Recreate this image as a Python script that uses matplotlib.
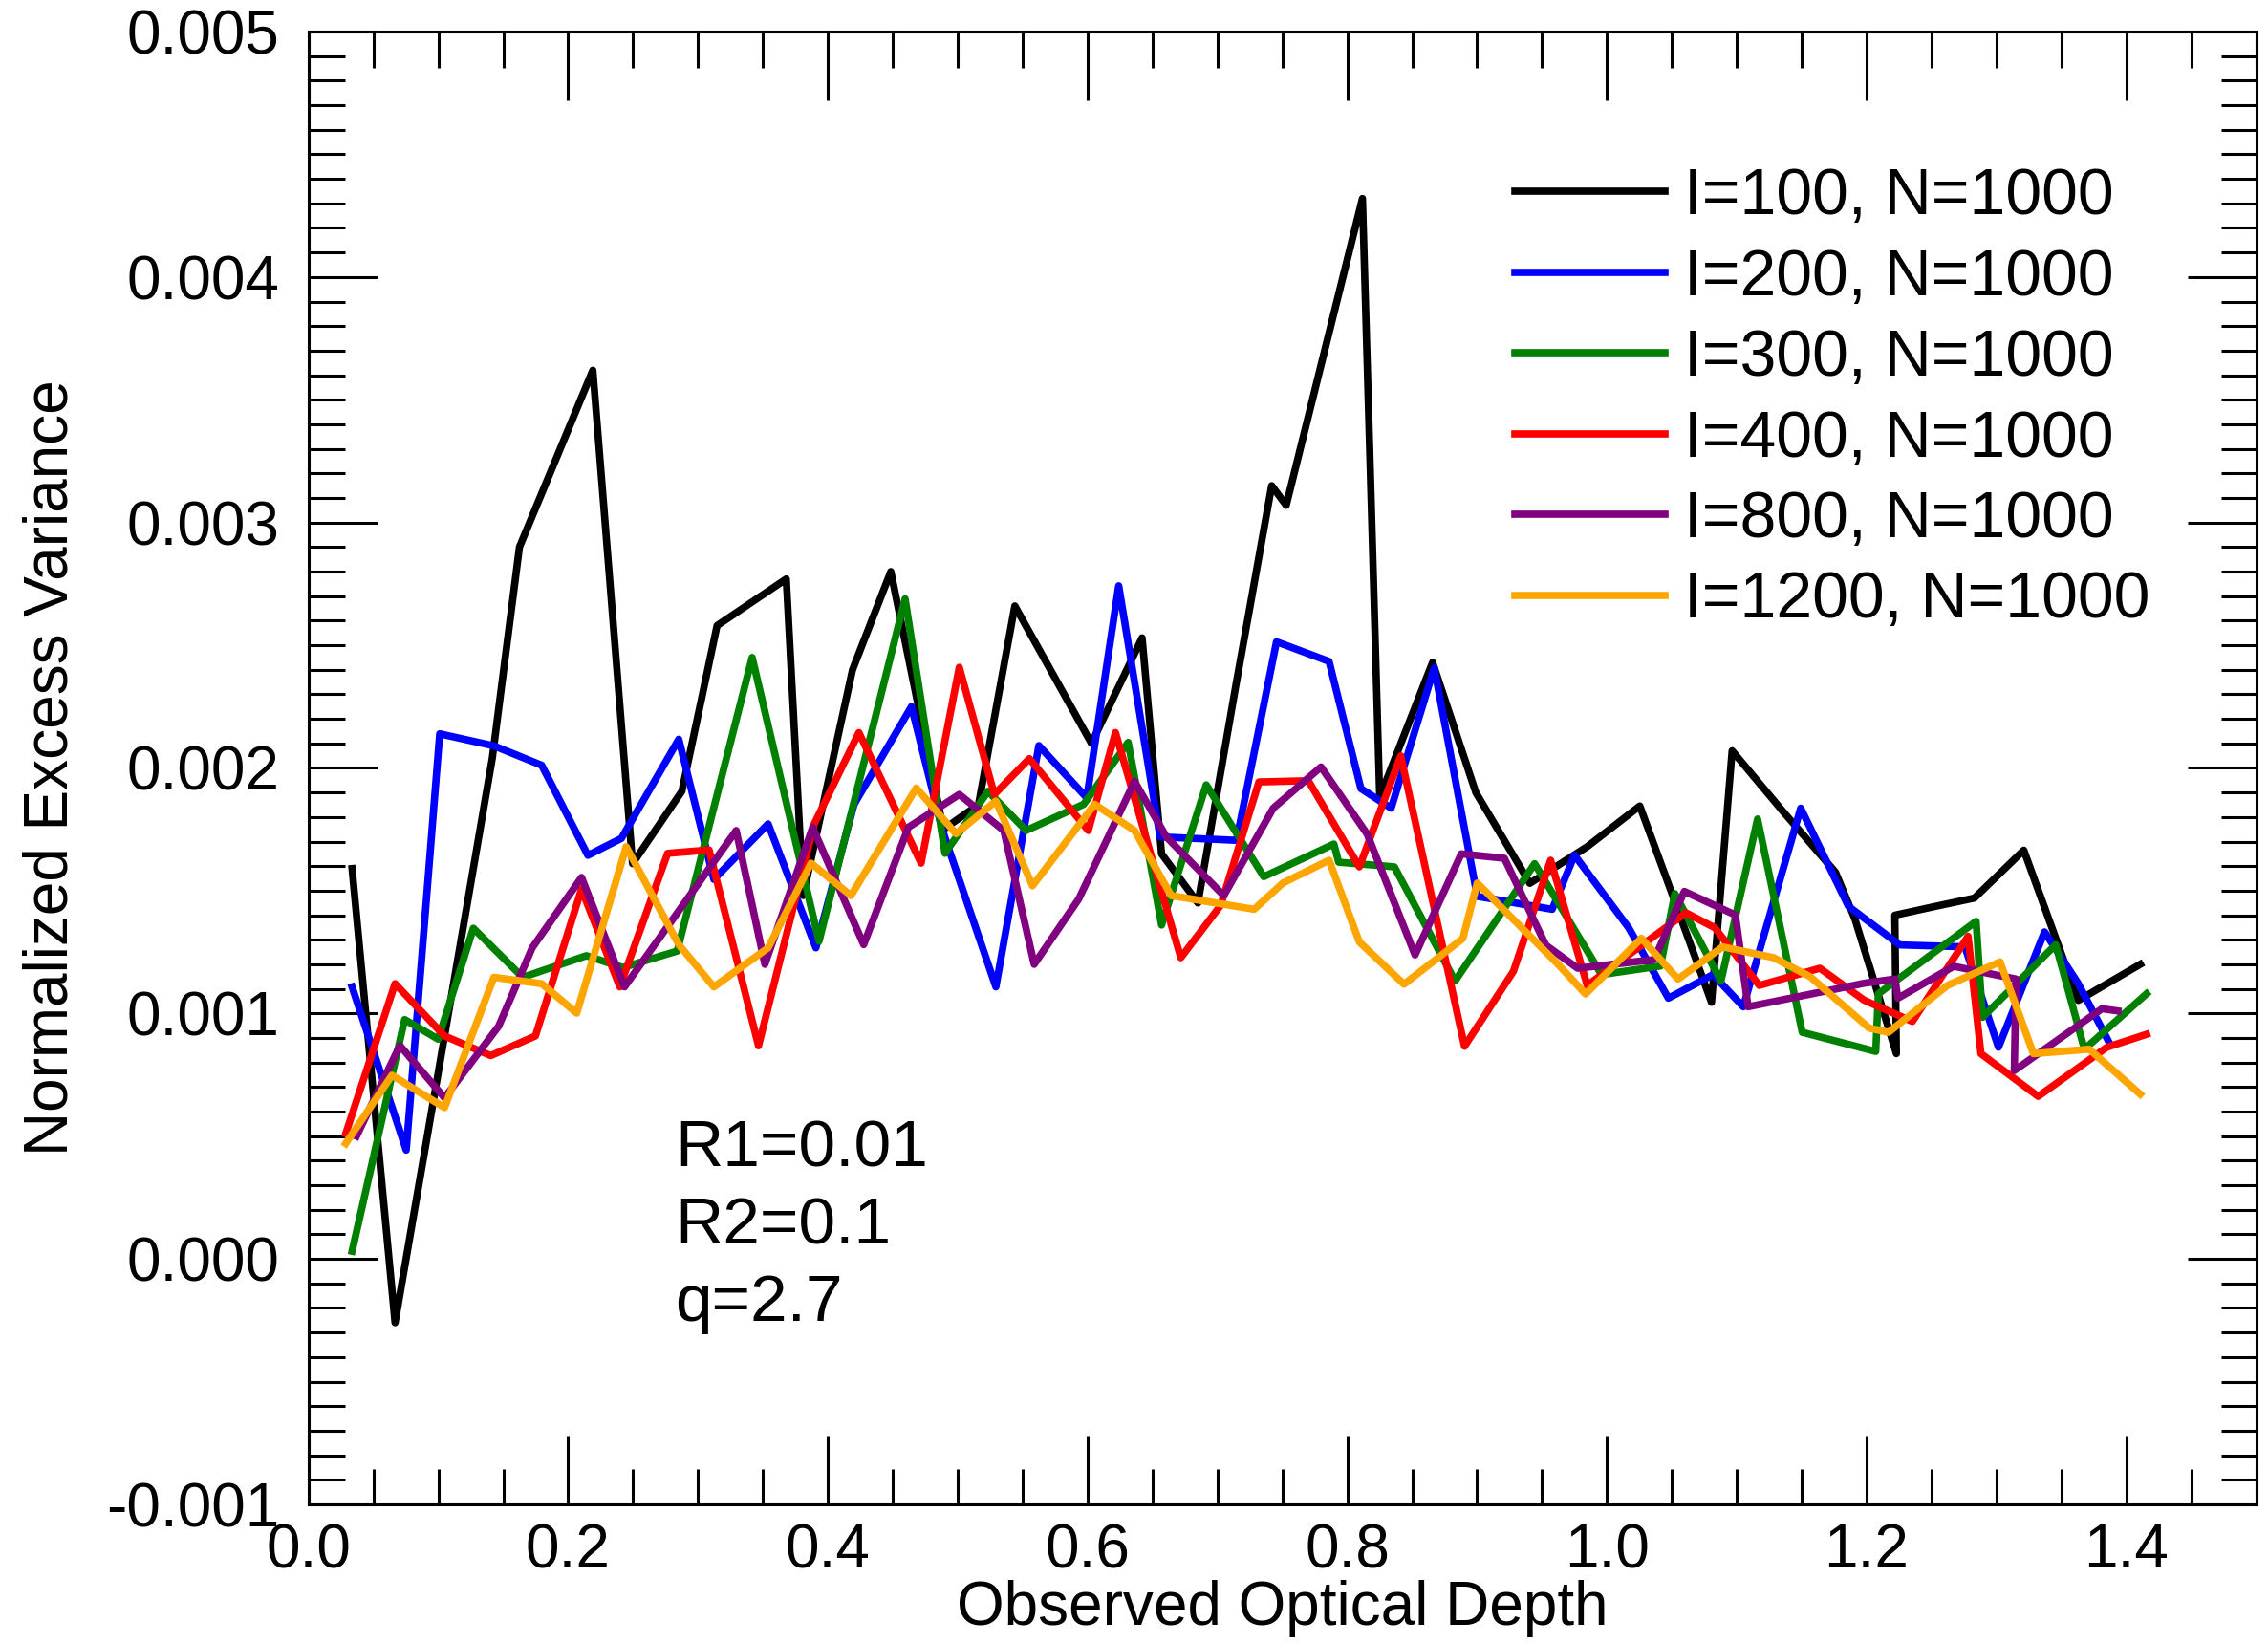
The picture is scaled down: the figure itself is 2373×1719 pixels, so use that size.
import matplotlib
matplotlib.use('Agg')
import matplotlib.pyplot as plt
from matplotlib.ticker import MultipleLocator, FormatStrFormatter

plt.rcParams['font.family'] = ['Liberation Sans', 'DejaVu Sans']

# optical depth / excess variance (units of 1e-3) for each l
x_100 = [0.0336, 0.0667, 0.100, 0.1416, 0.1625, 0.219, 0.2496, 0.2876, 0.3147, 0.368,
         0.381, 0.419, 0.4485, 0.489, 0.516, 0.544, 0.603, 0.642, 0.657, 0.685,
         0.714, 0.7418, 0.753, 0.8117, 0.825, 0.8657, 0.899, 0.9406, 0.985, 1.0253,
         1.052, 1.0805, 1.0964, 1.136, 1.176, 1.191, 1.2229, 1.2217, 1.252, 1.283,
         1.321, 1.363, 1.4107]
y_100 = [1.59, -0.26, 0.76, 2.04, 2.90, 3.62, 1.61, 1.905, 2.58, 2.77,
         1.48, 2.40, 2.80, 1.75, 1.85, 2.66, 2.10, 2.53, 1.65, 1.45,
         2.33, 3.15, 3.07, 4.32, 1.88, 2.43, 1.90, 1.53, 1.68, 1.845,
         1.46, 1.045, 2.07, 1.82, 1.575, 1.384, 0.836, 1.40, 1.435, 1.47,
         1.665, 1.053, 1.20]

x_200 = [0.0336, 0.0753, 0.1011, 0.1428, 0.1796, 0.2152, 0.241, 0.2852, 0.3122, 0.354,
         0.3908, 0.4202, 0.4644, 0.488, 0.5294, 0.5625, 0.5994, 0.624, 0.6558, 0.7147,
         0.7455, 0.786, 0.8105, 0.8338, 0.867, 0.9001, 0.9578, 0.975, 1.0167, 1.0473,
         1.0817, 1.105, 1.1492, 1.186, 1.2254, 1.2757, 1.3015, 1.337, 1.3628, 1.3861]
y_200 = [1.108, 0.443, 2.139, 2.09, 2.011, 1.644, 1.713, 2.117, 1.546, 1.772,
         1.267, 1.852, 2.25, 1.75, 1.108, 2.091, 1.878, 2.742, 1.719, 1.705,
         2.514, 2.434, 1.916, 1.836, 2.408, 1.477, 1.424, 1.645, 1.349, 1.062,
         1.158, 1.027, 1.836, 1.436, 1.279, 1.271, 0.862, 1.332, 1.123, 0.888]

x_300 = [0.0336, 0.0741, 0.0999, 0.127, 0.165, 0.214, 0.2422, 0.284, 0.3417, 0.3932,
         0.4595, 0.4902, 0.5233, 0.5527, 0.597, 0.6313, 0.657, 0.6914, 0.7357, 0.7897,
         0.7934, 0.8363, 0.883, 0.9443, 0.9958, 1.0412, 1.0523, 1.0878, 1.116, 1.1504,
         1.207, 1.209, 1.2843, 1.2892, 1.3456, 1.3677, 1.4156]
y_300 = [0.031, 0.975, 0.895, 1.347, 1.147, 1.235, 1.187, 1.254, 2.45, 1.294,
         2.689, 1.652, 1.905, 1.745, 1.852, 2.104, 1.36, 1.931, 1.557, 1.69,
         1.616, 1.597, 1.132, 1.61, 1.158, 1.193, 1.488, 1.132, 1.792, 0.923,
         0.845, 1.08, 1.375, 0.984, 1.28, 0.854, 1.08]

x_400 = [0.0287, 0.0667, 0.1048, 0.1404, 0.1748, 0.2103, 0.2398, 0.2766, 0.3085, 0.3466,
         0.3895, 0.4239, 0.4718, 0.5012, 0.5282, 0.5552, 0.6006, 0.6215, 0.6718, 0.7025,
         0.732, 0.770, 0.8093, 0.8412, 0.8903, 0.928, 0.9566, 0.9848, 1.0608, 1.083,
         1.1173, 1.164, 1.198, 1.2352, 1.2781, 1.288, 1.3321, 1.385, 1.4156]
y_400 = [0.51, 1.121, 0.908, 0.828, 0.908, 1.506, 1.108, 1.652, 1.666, 0.868,
         1.772, 2.144, 1.612, 2.41, 1.892, 2.038, 1.745, 2.144, 1.227, 1.44,
         1.943, 1.948, 1.597, 2.049, 0.866, 1.172, 1.624, 1.114, 1.41, 1.349,
         1.114, 1.184, 1.054, 0.967, 1.314, 0.836, 0.662, 0.862, 0.915]

x_800 = [0.037, 0.0704, 0.1048, 0.1465, 0.1723, 0.2103, 0.2434, 0.3294, 0.3515, 0.3883,
         0.4276, 0.462, 0.5012, 0.5355, 0.5589, 0.5932, 0.6362, 0.6607, 0.7049, 0.743,
         0.7798, 0.8154, 0.8522, 0.8878, 0.921, 0.9529, 0.9774, 1.0363, 1.0596, 1.0989,
         1.1087, 1.1983, 1.2217, 1.2241, 1.2671, 1.315, 1.3137, 1.3812, 1.3935]
y_800 = [0.50, 0.869, 0.656, 0.948, 1.267, 1.554, 1.108, 1.745, 1.2, 1.758,
         1.28, 1.758, 1.892, 1.745, 1.2, 1.466, 1.945, 1.719, 1.48, 1.836,
         2.004, 1.73, 1.238, 1.65, 1.632, 1.278, 1.184, 1.219, 1.497, 1.401,
         1.027, 1.123, 1.14, 1.062, 1.192, 1.14, 0.767, 1.019, 1.01]

x_1200 = [0.0287, 0.0643, 0.1048, 0.1428, 0.1796, 0.2066, 0.2447, 0.2852, 0.3122, 0.354,
          0.3871, 0.4178, 0.4681, 0.4987, 0.5294, 0.5576, 0.6055, 0.6362, 0.6644, 0.7283,
          0.7504, 0.786, 0.8093, 0.8437, 0.889, 0.9001, 0.9627, 0.9835, 1.0265, 1.0547,
          1.0891, 1.1284, 1.1566, 1.202, 1.2168, 1.2622, 1.3027, 1.3284, 1.3714, 1.4107]
y_1200 = [0.47, 0.748, 0.616, 1.147, 1.121, 1.001, 1.679, 1.28, 1.108, 1.267,
          1.612, 1.48, 1.918, 1.732, 1.865, 1.52, 1.852, 1.745, 1.48, 1.424,
          1.531, 1.624, 1.291, 1.119, 1.305, 1.531, 1.198, 1.079, 1.306, 1.14,
          1.271, 1.227, 1.149, 0.94, 0.923, 1.114, 1.21, 0.836, 0.854, 0.671]

series = [
    (x_100, y_100, 'black', 'I=100, N=1000'),
    (x_200, y_200, 'blue', 'I=200, N=1000'),
    (x_300, y_300, 'green', 'I=300, N=1000'),
    (x_400, y_400, 'red', 'I=400, N=1000'),
    (x_800, y_800, 'purple', 'I=800, N=1000'),
    (x_1200, y_1200, 'orange', 'I=1200, N=1000'),
]

fs = 46
fig = plt.figure(figsize=(23.73, 17.19), dpi=100)
ax = fig.add_axes([0.136, 0.0844, 0.8588, 0.8964])

for xs, ys, c, lab in series:
    ax.plot(xs, [v * 1e-3 for v in ys], color=c, lw=5.5, label=lab)

ax.set_xlim(0, 1.5)
ax.set_ylim(-0.001, 0.005)
ax.xaxis.set_major_locator(MultipleLocator(0.2))
ax.xaxis.set_minor_locator(MultipleLocator(0.05))
ax.yaxis.set_major_locator(MultipleLocator(0.001))
ax.yaxis.set_minor_locator(MultipleLocator(0.0001))
ax.xaxis.set_major_formatter(FormatStrFormatter('%.1f'))
ax.yaxis.set_major_formatter(FormatStrFormatter('%.3f'))

ax.tick_params(which='both', direction='in', top=True, right=True, width=2.2, labelsize=fs)
ax.tick_params(which='major', length=52)
ax.tick_params(which='minor', length=27)
ax.tick_params(axis='x', which='major', pad=14)
ax.tick_params(axis='y', which='major', pad=22)
for sp in ax.spines.values():
    sp.set_linewidth(2.2)

ax.set_xlabel('Observed Optical Depth', fontsize=fs, labelpad=0)
ax.set_ylabel('Normalized Excess Variance', fontsize=fs, labelpad=20)

ax.legend(loc='upper right', bbox_to_anchor=(0.9586, 0.926), frameon=False, fontsize=49,
          handlelength=2.3, handletextpad=0.29, labelspacing=0.30, borderaxespad=0)

ax.text(0.188, 0.262, 'R1=0.01\nR2=0.1\nq=2.7', transform=ax.transAxes,
        fontsize=50, va='top', ha='left', linespacing=1.34)

fig.savefig('out.png', dpi=100)
